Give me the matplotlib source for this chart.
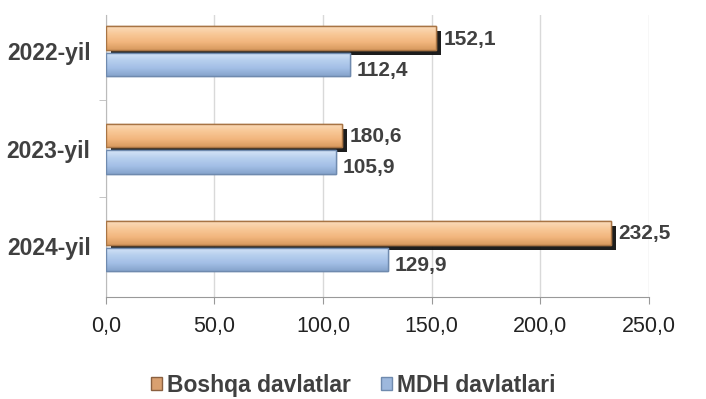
import matplotlib.pyplot as plt
import matplotlib.patheffects as pe
from matplotlib.colors import LinearSegmentedColormap
from matplotlib.patches import Patch
import numpy as np

plt.rcParams['font.family'] = ['Liberation Sans', 'DejaVu Sans']

years = ["2022-yil", "2023-yil", "2024-yil"]
# bar lengths as drawn in the picture (2023 "Boshqa" bar is drawn near 108.6)
boshqa = [152.1, 108.6, 232.5]
mdh = [112.4, 105.9, 129.9]
boshqa_labels = ["152,1", "180,6", "232,5"]
mdh_labels = ["112,4", "105,9", "129,9"]
xticks = [0, 50, 100, 150, 200, 250]

fig = plt.figure(figsize=(7.06, 3.99), dpi=100)
ax = fig.add_axes([0.150, 0.256, 0.769, 0.706])

y = np.arange(len(years))
h = 0.24
off = 0.135
txt = "#404040"

orange = LinearSegmentedColormap.from_list("o", ["#FBDCBC", "#F8C897", "#F2B67E", "#D89A5F"])
blue = LinearSegmentedColormap.from_list("b", ["#D6E5F7", "#B7CFEE", "#A3BFE6", "#86A4CC"])
grad = np.linspace(0, 1, 64).reshape(-1, 1)

shadow = [pe.SimplePatchShadow(offset=(3.5, -3.5), shadow_rgbFace="#111111", alpha=0.95), pe.Normal()]
b1 = ax.barh(y - off, boshqa, height=h, color="#F5C08C", edgecolor="#A87444", linewidth=1.0,
             zorder=3, path_effects=shadow)
b2 = ax.barh(y + off, mdh, height=h, color="#A9C5EA", edgecolor="#6F8AAE", linewidth=1.0,
             zorder=3)

# gradient fill clipped to each bar
for bars, cmap, vals, pos in [(b1, orange, boshqa, y - off), (b2, blue, mdh, y + off)]:
    for bar, v, p in zip(bars, vals, pos):
        im = ax.imshow(grad, cmap=cmap, aspect="auto", origin="upper",
                       extent=(0, v, p + h / 2, p - h / 2), zorder=3.5)
        im.set_clip_path(bar)
    for bar in bars:
        ax.add_patch(plt.Rectangle(bar.get_xy(), bar.get_width(), bar.get_height(), fill=False,
                                   edgecolor=bar.get_edgecolor(), linewidth=1.0, zorder=4))

for i in range(len(years)):
    ax.text(boshqa[i] + 3.5, y[i] - off + 0.01, boshqa_labels[i], ha="left", va="center",
            fontsize=15, fontweight="bold", color=txt, zorder=5)
    ax.text(mdh[i] + 3, y[i] + off + 0.06, mdh_labels[i], ha="left", va="center",
            fontsize=15, fontweight="bold", color=txt, zorder=5)

ax.set_xlim(0, 250)
ax.set_ylim(2.52, -0.37)
ax.set_xticks(xticks)
ax.set_xticklabels([f"{v:.1f}".replace(".", ",") for v in xticks], fontsize=15.5, color="#222222")
ax.set_yticks(y)
ax.set_yticklabels(years, fontsize=16.5, fontweight="bold", color=txt)
ax.set_yticks([0.5, 1.5], minor=True)
ax.tick_params(axis="y", which="major", length=0, pad=11)
ax.tick_params(axis="y", which="minor", length=5, color="#BBBBBB")
ax.tick_params(axis="x", length=5, color="#999999", pad=9)

ax.grid(axis="x", color="#D9D9D9", linewidth=1, zorder=0)
for s in ["top", "right"]:
    ax.spines[s].set_visible(False)
ax.spines["left"].set_color("#BBBBBB")
ax.spines["bottom"].set_color("#999999")

handles = [Patch(facecolor="#D9A070", edgecolor="#8A6040", label="Boshqa davlatlar"),
           Patch(facecolor="#9DB8DD", edgecolor="#6F8AAE", label="MDH davlatlari")]
fig.legend(handles=handles, loc="center", bbox_to_anchor=(0.5, 0.035), ncol=2, frameon=False,
           prop={"weight": "bold", "size": 16.5}, labelcolor=txt, handlelength=0.5, handleheight=0.5,
           handletextpad=0.2, columnspacing=1.3)

fig.savefig("out.png", dpi=100)
